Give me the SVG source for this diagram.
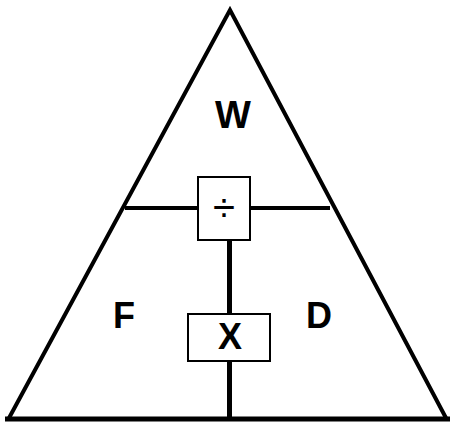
<svg xmlns="http://www.w3.org/2000/svg" width="450" height="423" viewBox="0 0 450 423">
<style>
.ln{stroke:#000;fill:none;stroke-linecap:butt}
.box{fill:#fff;stroke:#000;stroke-width:2}
.t{font-family:"Liberation Sans",Arial,sans-serif;font-weight:bold;font-size:36px;fill:#000;text-anchor:middle}
</style>
<rect width="450" height="423" fill="#fff"/>
<g id="triangle">
<polyline class="ln" points="9,418 230,10 446,418" stroke-width="4" stroke-linejoin="miter"/>
<line class="ln" x1="5" y1="419" x2="450" y2="419" stroke-width="5"/>
</g>
<g id="connectors">
<line class="ln" x1="125" y1="208" x2="330" y2="208" stroke-width="4"/>
<line class="ln" x1="229.5" y1="240" x2="229.5" y2="417" stroke-width="5"/>
</g>
<g id="label-W"><text class="t" x="233" y="128" style="font-size:38px">W</text></g>
<g id="label-F"><text class="t" x="124" y="328">F</text></g>
<g id="label-D"><text class="t" x="319" y="328">D</text></g>
<g id="divide">
<rect class="box" x="198" y="177" width="52" height="63"/>
<text class="t" x="224" y="221" style="font-size:40px;font-weight:normal">÷</text>
</g>
<g id="times">
<rect class="box" x="188" y="314" width="82" height="47"/>
<text class="t" x="230" y="349">X</text>
</g>
</svg>
